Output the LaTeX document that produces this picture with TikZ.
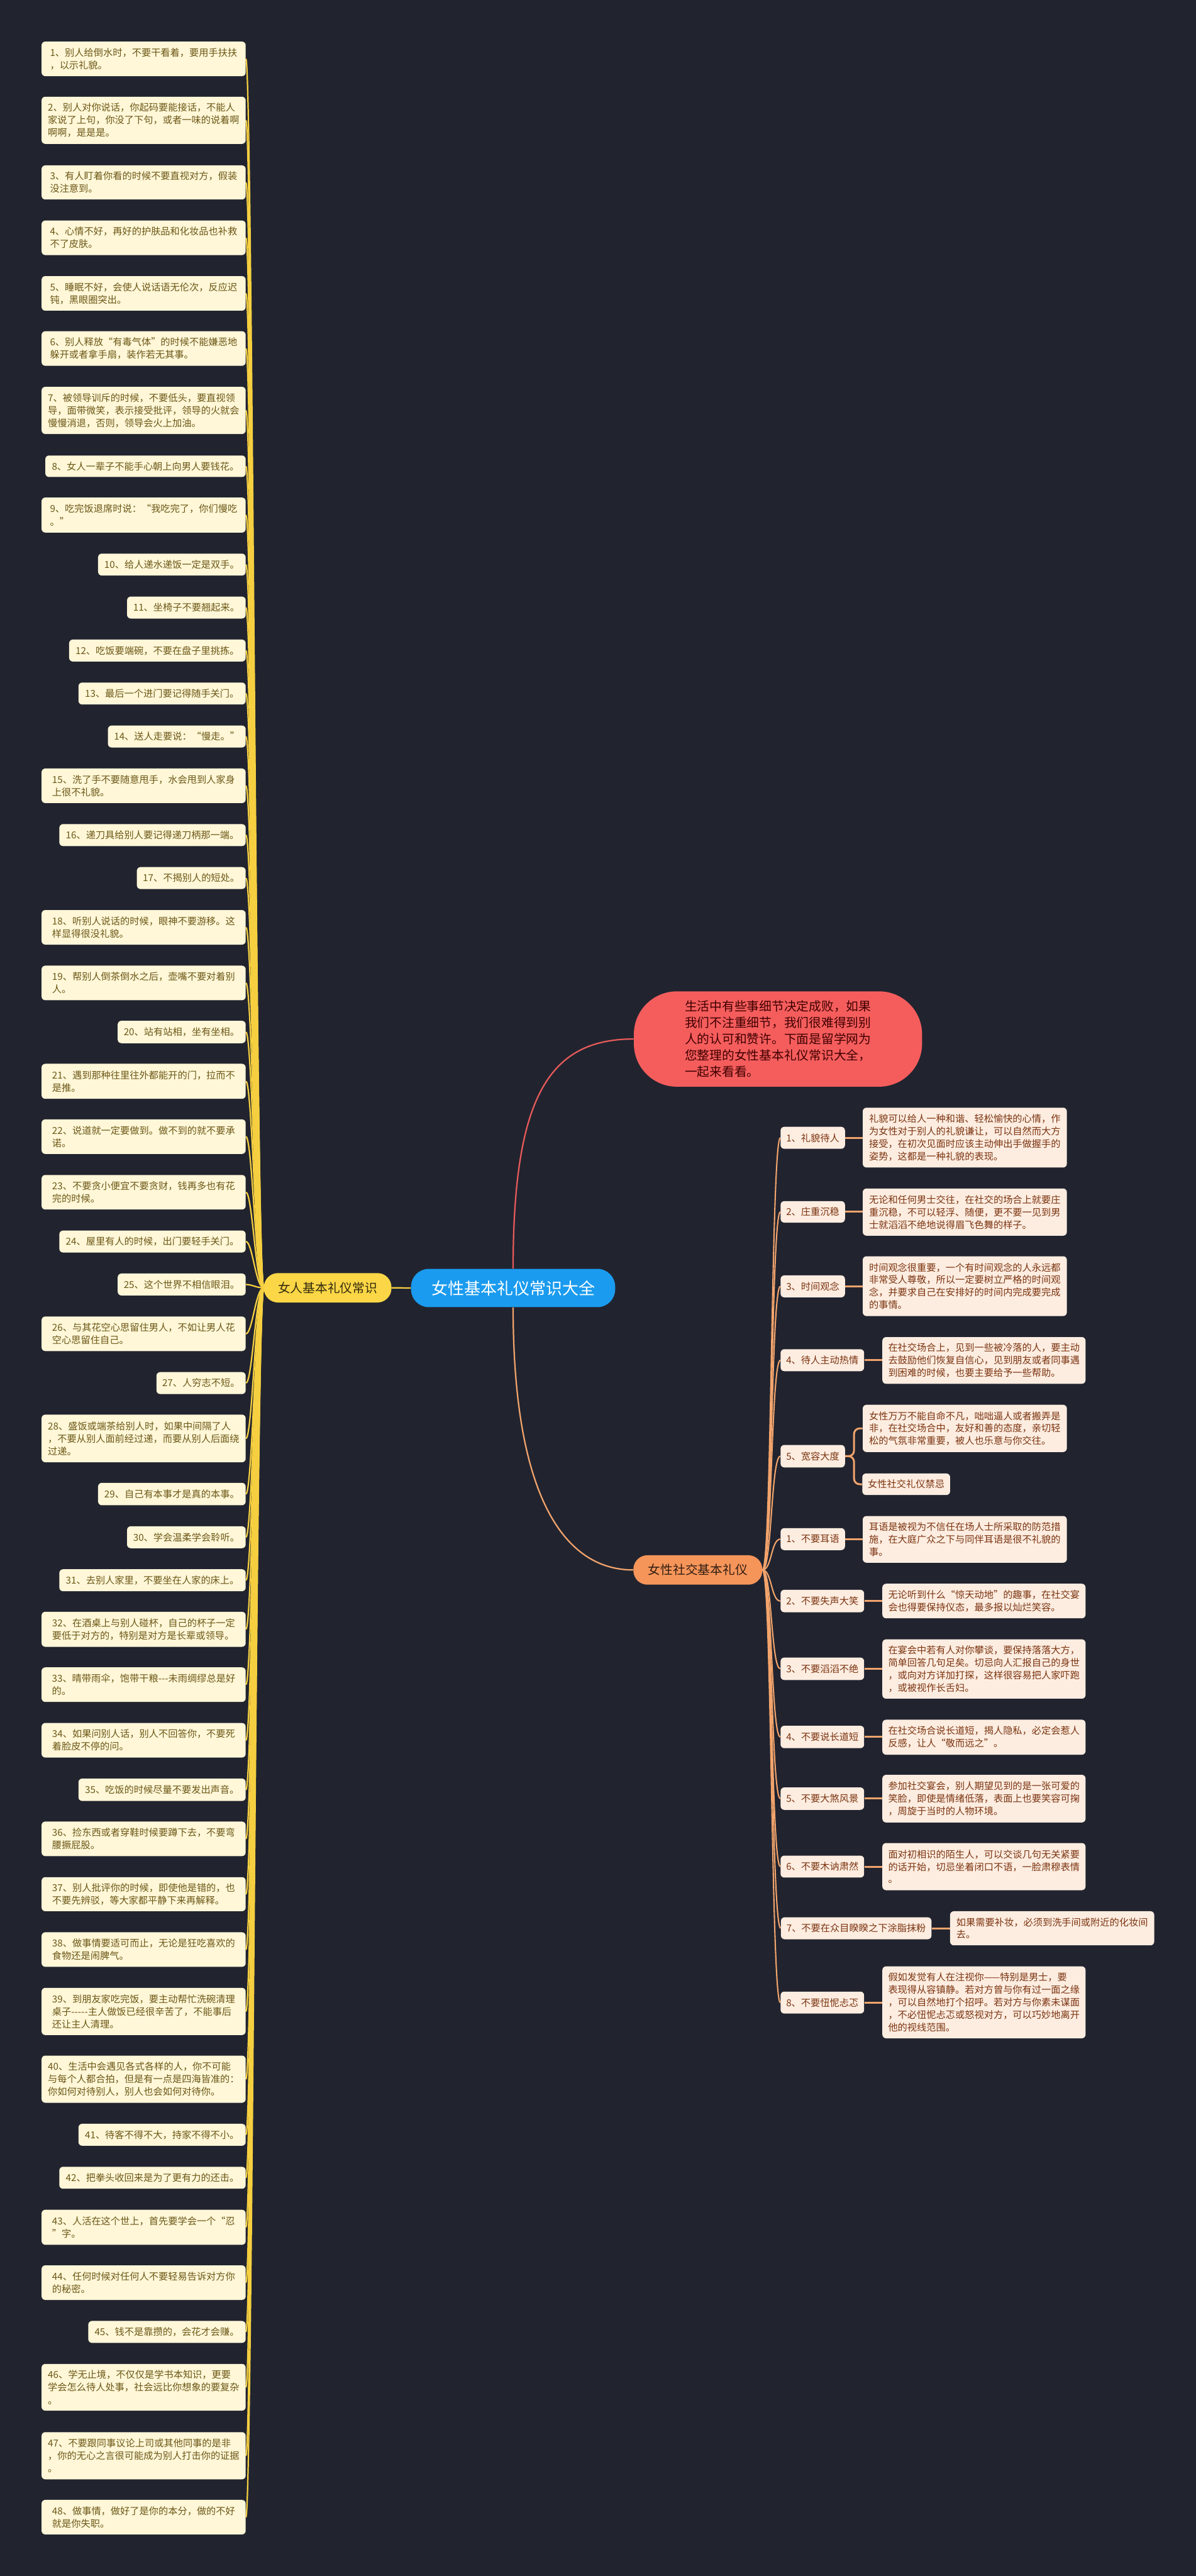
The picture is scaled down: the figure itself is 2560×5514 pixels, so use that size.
\documentclass[tikz,border=0pt]{standalone}
\usepackage{fontspec}
\newfontfamily\cjk{Noto Sans CJK SC}
\definecolor{bg}{HTML}{21242F}
\definecolor{lfill}{HTML}{FFF7D8}
\definecolor{ltext}{HTML}{6B5716}
\definecolor{yel}{HTML}{FBD646}
\definecolor{yline}{HTML}{F5CF40}
\definecolor{blu}{HTML}{1A9BEF}
\definecolor{redn}{HTML}{F55D5D}
\definecolor{redl}{HTML}{E85A5A}
\definecolor{orn}{HTML}{F6955A}
\definecolor{orl}{HTML}{F2A46C}
\definecolor{rfill}{HTML}{FDEDE1}
\definecolor{rtext}{HTML}{7B3410}
\pgfdeclarelayer{bglayer}
\pgfdeclarelayer{lines}
\pgfsetlayers{bglayer,lines,main}
\tikzset{
  lbox/.style={fill=lfill, text=ltext, rounded corners=4pt, align=left, inner xsep=6pt, inner ysep=2pt,
    font=\cjk\fontsize{10.25}{13.5}\selectfont},
  rbox/.style={fill=rfill, text=rtext, rounded corners=4pt, align=left, inner xsep=6pt, inner ysep=2pt,
    font=\cjk\fontsize{10.25}{13.4}\selectfont},
  yl/.style={draw=yline, line width=1.5pt},
  ol/.style={draw=orl, line width=1.4pt},
  oll/.style={draw=orl, line width=2pt},
}
\newcommand\LB[5]{\node[lbox, minimum width={(526-#2)*0.5pt}, minimum height={(#4-#3)*0.5pt}] (L#1) at ({(#2+526)/2},{(#3+#4)/2}) {#5};}
\newcommand\RB[6]{\node[rbox, minimum width={(#3-#2)*0.5pt}, minimum height={(#5-#4)*0.5pt}] (#1) at ({(#2+#3)/2},{(#4+#5)/2}) {#6};}
\newcommand\hyk{-\kern0pt}
\begin{document}
\begin{tikzpicture}[x=0.5pt, y=-0.5pt]
\useasboundingbox (0,0) rectangle (2560,5514);
\begin{pgfonlayer}{bglayer}
\fill[bg] (0,0) rectangle (2560,5514);
\end{pgfonlayer}

% central nodes
\node[fill=blu, text=white, rounded corners=19pt, minimum width=218.5pt, minimum height=41pt,
  font=\cjk\fontsize{17.5}{20}\selectfont] (ctr) at (1098.5,2757) {女性基本礼仪常识大全};
\node[fill=yel, text={black!80!yel}, rounded corners=15pt, minimum width=136.5pt, minimum height=31.5pt,
  font=\cjk\fontsize{13.3}{16}\selectfont] (yel) at (701.5,2756.5) {女人基本礼仪常识};
\node[fill=redn, text={black!75!red}, rounded corners=46pt, minimum width=308.5pt, minimum height=102pt, align=left,
  font=\cjk\fontsize{13.3}{17.5}\selectfont] (intro) at (1665.5,2224) {生活中有些事细节决定成败，如果\\我们不注重细节，我们很难得到别\\人的认可和赞许。下面是留学网为\\您整理的女性基本礼仪常识大全，\\一起来看看。};
\node[fill=orn, text={black!80!orn}, rounded corners=15pt, minimum width=138pt, minimum height=31.5pt,
  font=\cjk\fontsize{13.3}{16}\selectfont] (soc) at (1494,3360.5) {女性社交基本礼仪};

% left boxes
\LB{1}{89}{89}{163}{1、别人给倒水时，不要干看着，要用手扶扶\\，以示礼貌。}
\LB{2}{89}{207}{308}{2、别人对你说话，你起码要能接话，不能人\\家说了上句，你没了下句，或者一味的说着啊\\啊啊，是是是。}
\LB{3}{89}{354}{427}{3、有人盯着你看的时候不要直视对方，假装\\没注意到。}
\LB{4}{89}{472}{546}{4、心情不好，再好的护肤品和化妆品也补救\\不了皮肤。}
\LB{5}{89}{591}{665}{5、睡眠不好，会使人说话语无伦次，反应迟\\钝，黑眼圈突出。}
\LB{6}{89}{709}{783}{6、别人释放“有毒气体”的时候不能嫌恶地\\躲开或者拿手扇，装作若无其事。}
\LB{7}{89}{828}{929}{7、被领导训斥的时候，不要低头，要直视领\\导，面带微笑，表示接受批评，领导的火就会\\慢慢消退，否则，领导会火上加油。}
\LB{8}{97}{975}{1021}{8、女人一辈子不能手心朝上向男人要钱花。}
\LB{9}{89}{1065}{1140}{9、吃完饭退席时说：“我吃完了，你们慢吃\\。”}
\LB{10}{210}{1185}{1232}{10、给人递水递饭一定是双手。}
\LB{11}{272}{1277}{1324}{11、坐椅子不要翘起来。}
\LB{12}{148}{1369}{1416}{12、吃饭要端碗，不要在盘子里挑拣。}
\LB{13}{168}{1461}{1508}{13、最后一个进门要记得随手关门。}
\LB{14}{231}{1553}{1600}{14、送人走要说：“慢走。”}
\LB{15}{89}{1645}{1719}{15、洗了手不要随意甩手，水会甩到人家身\\上很不礼貌。}
\LB{16}{127}{1764}{1811}{16、递刀具给别人要记得递刀柄那一端。}
\LB{17}{293}{1856}{1903}{17、不揭别人的短处。}
\LB{18}{89}{1948}{2022}{18、听别人说话的时候，眼神不要游移。这\\样显得很没礼貌。}
\LB{19}{89}{2067}{2141}{19、帮别人倒茶倒水之后，壶嘴不要对着别\\人。}
\LB{20}{252}{2185}{2233}{20、站有站相，坐有坐相。}
\LB{21}{89}{2277}{2352}{21、遇到那种往里往外都能开的门，拉而不\\是推。}
\LB{22}{89}{2396}{2470}{22、说道就一定要做到。做不到的就不要承\\诺。}
\LB{23}{89}{2515}{2589}{23、不要贪小便宜不要贪财，钱再多也有花\\完的时候。}
\LB{24}{127}{2634}{2681}{24、屋里有人的时候，出门要轻手关门。}
\LB{25}{252}{2726}{2773}{25、这个世界不相信眼泪。}
\LB{26}{89}{2818}{2892}{26、与其花空心思留住男人，不如让男人花\\空心思留住自己。}
\LB{27}{335}{2937}{2984}{27、人穷志不短。}
\LB{28}{89}{3028}{3130}{28、盛饭或端茶给别人时，如果中间隔了人\\，不要从别人面前经过递，而要从别人后面绕\\过递。}
\LB{29}{210}{3174}{3222}{29、自己有本事才是真的本事。}
\LB{30}{272}{3267}{3314}{30、学会温柔学会聆听。}
\LB{31}{127}{3359}{3406}{31、去别人家里，不要坐在人家的床上。}
\LB{32}{89}{3450}{3525}{32、在酒桌上与别人碰杯，自己的杯子一定\\要低于对方的，特别是对方是长辈或领导。}
\LB{33}{89}{3569}{3643}{33、晴带雨伞，饱带干粮\hyk\hyk-未雨绸缪总是好\\的。}
\LB{34}{89}{3688}{3762}{34、如果问别人话，别人不回答你，不要死\\着脸皮不停的问。}
\LB{35}{168}{3807}{3855}{35、吃饭的时候尽量不要发出声音。}
\LB{36}{89}{3899}{3973}{36、捡东西或者穿鞋时候要蹲下去，不要弯\\腰撅屁股。}
\LB{37}{89}{4018}{4091}{37、别人批评你的时候，即使他是错的，也\\不要先辨驳，等大家都平静下来再解释。}
\LB{38}{89}{4136}{4210}{38、做事情要适可而止，无论是狂吃喜欢的\\食物还是闹脾气。}
\LB{39}{89}{4255}{4356}{39、到朋友家吃完饭，要主动帮忙洗碗清理\\桌子\hyk\hyk\hyk\hyk-主人做饭已经很辛苦了，不能事后\\还让主人清理。}
\LB{40}{89}{4400}{4501}{40、生活中会遇见各式各样的人，你不可能\\与每个人都合拍，但是有一点是四海皆准的：\\你如何对待别人，别人也会如何对待你。}
\LB{41}{168}{4546}{4593}{41、待客不得不大，持家不得不小。}
\LB{42}{127}{4638}{4685}{42、把拳头收回来是为了更有力的还击。}
\LB{43}{89}{4730}{4805}{43、人活在这个世上，首先要学会一个“忍\\”字。}
\LB{44}{89}{4849}{4923}{44、任何时候对任何人不要轻易告诉对方你\\的秘密。}
\LB{45}{189}{4968}{5015}{45、钱不是靠攒的，会花才会赚。}
\LB{46}{89}{5060}{5160}{46、学无止境，不仅仅是学书本知识，更要\\学会怎么待人处事，社会远比你想象的要复杂\\。}
\LB{47}{89}{5206}{5307}{47、不要跟同事议论上司或其他同事的是非\\，你的无心之言很可能成为别人打击你的证据\\。}
\LB{48}{89}{5351}{5425}{48、做事情，做好了是你的本分，做的不好\\就是你失职。}

% right boxes
\RB{R1}{1672}{1808}{2412}{2459}{1、礼貌待人}
\RB{D1}{1847}{2284}{2371}{2499}{礼貌可以给人一种和谐、轻松愉快的心情，作\\为女性对于别人的礼貌谦让，可以自然而大方\\接受，在初次见面时应该主动伸出手做握手的\\姿势，这都是一种礼貌的表现。}
\RB{R2}{1672}{1808}{2571}{2617}{2、庄重沉稳}
\RB{D2}{1847}{2284}{2544}{2645}{无论和任何男士交往，在社交的场合上就要庄\\重沉稳，不可以轻浮、随便，更不要一见到男\\士就滔滔不绝地说得眉飞色舞的样子。}
\RB{R3}{1672}{1808}{2730}{2777}{3、时间观念}
\RB{D3}{1847}{2284}{2689}{2817}{时间观念很重要，一个有时间观念的人永远都\\非常受人尊敬，所以一定要树立严格的时间观\\念，并要求自己在安排好的时间内完成要完成\\的事情。}
\RB{R4}{1672}{1849}{2888}{2935}{4、待人主动热情}
\RB{D4}{1889}{2324}{2862}{2962}{在社交场合上，见到一些被冷落的人，要主动\\去鼓励他们恢复自信心，见到朋友或者同事遇\\到困难的时候，也要主要给予一些帮助。}
\RB{R5}{1672}{1808}{3093}{3141}{5、宽容大度}
\RB{D5a}{1847}{2284}{3007}{3108}{女性万万不能自命不凡，咄咄逼人或者搬弄是\\非，在社交场合中，友好和善的态度，亲切轻\\松的气氛非常重要，被人也乐意与你交往。}
\RB{D5b}{1847}{2033}{3154}{3200}{女性社交礼仪禁忌}
\RB{S1}{1672}{1808}{3271}{3318}{1、不要耳语}
\RB{E1}{1847}{2284}{3245}{3345}{耳语是被视为不信任在场人士所采取的防范措\\施，在大庭广众之下与同伴耳语是很不礼貌的\\事。}
\RB{S2}{1672}{1849}{3403}{3451}{2、不要失声大笑}
\RB{E2}{1889}{2324}{3390}{3464}{无论听到什么“惊天动地”的趣事，在社交宴\\会也得要保持仪态，最多报以灿烂笑容。}
\RB{S3}{1672}{1849}{3548}{3596}{3、不要滔滔不绝}
\RB{E3}{1889}{2324}{3509}{3636}{在宴会中若有人对你攀谈，要保持落落大方，\\简单回答几句足矣。切忌向人汇报自己的身世\\，或向对方详加打探，这样很容易把人家吓跑\\，或被视作长舌妇。}
\RB{S4}{1672}{1849}{3694}{3742}{4、不要说长道短}
\RB{E4}{1889}{2324}{3681}{3756}{在社交场合说长道短，揭人隐私，必定会惹人\\反感，让人“敬而远之”。}
\RB{S5}{1672}{1849}{3826}{3874}{5、不要大煞风景}
\RB{E5}{1889}{2324}{3799}{3901}{参加社交宴会，别人期望见到的是一张可爱的\\笑脸，即使是情绪低落，表面上也要笑容可掬\\，周旋于当时的人物环境。}
\RB{S6}{1672}{1849}{3972}{4019}{6、不要木讷肃然}
\RB{E6}{1889}{2324}{3945}{4046}{面对初相识的陌生人，可以交谈几句无关紧要\\的话开始，切忌坐着闭口不语，一脸肃穆表情\\。}
\RB{S7}{1672}{1994}{4104}{4151}{7、不要在众目睽睽之下涂脂抹粉}
\RB{E7}{2034}{2471}{4091}{4164}{如果需要补妆，必须到洗手间或附近的化妆间\\去。}
\RB{S8}{1672}{1849}{4263}{4310}{8、不要忸怩忐忑}
\RB{E8}{1889}{2324}{4209}{4363}{假如发觉有人在注视你——特别是男士，要\\表现得从容镇静。若对方曾与你有过一面之缘\\，可以自然地打个招呼。若对方与你素未谋面\\，不必忸怩忐忑或怒视对方，可以巧妙地离开\\他的视线范围。}

% connectors
\begin{pgfonlayer}{lines}
\foreach \i in {1,...,48}
  \draw[yl] (yel.west) .. controls +(-17,0) and +(14,0) .. (L\i.east);
\draw[yl] (ctr.west) -- (yel.east);
\draw[draw=redl, line width=1.5pt] (ctr.north) .. controls +(0,-370) and +(-180,0) .. (intro.west);
\draw[draw=orl, line width=1.5pt] (ctr.south) .. controls +(0,400) and +(-150,0) .. (soc.west);
\foreach \n in {R1,R2,R3,R4,R5,S1,S2,S3,S4,S5,S6,S7,S8}
  \draw[ol] (soc.east) .. controls +(20,0) and +(-20,0) .. (\n.west);
\foreach \a/\b in {R1/D1,R2/D2,R3/D3,R4/D4,S1/E1,S2/E2,S3/E3,S4/E4,S5/E5,S6/E6,S7/E7,S8/E8}
  \draw[oll] (\a.east) -- (\a.east -| \b.west);
\draw[oll, rounded corners=6pt] (R5.east) -- ++(19,0) |- (D5a.west);
\draw[oll, rounded corners=6pt] (R5.east) -- ++(19,0) |- (D5b.west);
\end{pgfonlayer}
\end{tikzpicture}
\end{document}
